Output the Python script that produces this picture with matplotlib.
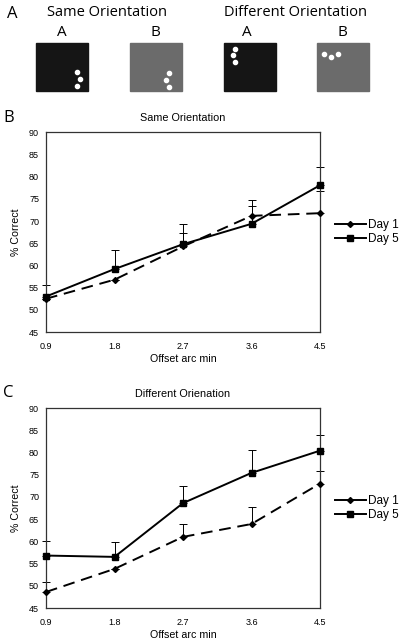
import numpy as np
import matplotlib
matplotlib.use('Agg')
import matplotlib.pyplot as plt
from matplotlib.patches import Rectangle
from matplotlib.lines import Line2D

plt.rcParams['font.family'] = ['Liberation Sans', 'DejaVu Sans']

# data
offsets = [0.9, 1.8, 2.7, 3.6, 4.5]
offset_labels = ['0.9', '1.8', '2.7', '3.6', '4.5']
yticks = [45, 50, 55, 60, 65, 70, 75, 80, 85, 90]

same_day1 = [52.5, 56.8, 64.3, 71.2, 71.8]
same_day1_err = [0.0, 0.0, 3.0, 2.3, 4.9]
same_day5 = [53.0, 59.2, 64.8, 69.4, 78.1]
same_day5_err = [2.7, 4.3, 4.6, 5.3, 4.2]

diff_day1 = [48.6, 53.8, 61.0, 63.9, 73.0]
diff_day1_err = [2.2, 0.0, 3.0, 3.8, 2.9]
diff_day5 = [56.8, 56.5, 68.6, 75.4, 80.4]
diff_day5_err = [3.2, 3.3, 3.8, 5.1, 3.6]

# panel A stimulus sketches (pixel positions in the figure)
stim_x = [36, 130, 224, 317]
stim_gray = ['#151515', '#6b6b6b', '#151515', '#6b6b6b']
stim_dots = [
    [(77, 72), (80, 79), (77, 86)],
    [(169, 73), (166, 80), (169, 87)],
    [(235, 49), (233, 55), (235, 62)],
    [(324, 54), (331, 57), (338, 54)],
]

W, H = 400, 643
fig = plt.figure(figsize=(W / 100, H / 100), dpi=100)

# overlay in pixel coords for panel A and the letters
ov = fig.add_axes([0, 0, 1, 1])
ov.set_xlim(0, W)
ov.set_ylim(H, 0)
ov.axis('off')

for x0, c, dots in zip(stim_x, stim_gray, stim_dots):
    ov.add_patch(Rectangle((x0, 43), 52, 48, color=c))
    ov.scatter([d[0] for d in dots], [d[1] for d in dots], s=9, color='white', zorder=3)

hfont = ['Open Sans', 'DejaVu Sans']
ov.text(7, 14, 'A', fontsize=12, family=hfont, va='center')
ov.text(107, 13, 'Same Orientation', fontsize=10.5, family=hfont, ha='center', va='center')
ov.text(295, 13, 'Different Orientation', fontsize=10.5, family=hfont, ha='center', va='center')
for x, t in zip([62, 155, 247, 342], ['A', 'B', 'A', 'B']):
    ov.text(x, 32, t, fontsize=11, family=hfont, ha='center', va='center')
ov.text(3, 118, 'B', fontsize=12, family=hfont, va='center')
ov.text(3, 393, 'C', fontsize=12, family=hfont, va='center')


def panel(top, bottom, title, d1, e1, d5, e5):
    ax = fig.add_axes([46 / W, 1 - bottom / H, (320 - 46) / W, (bottom - top) / H])
    ax.errorbar(offsets, d5, yerr=[np.zeros(5), e5], fmt='none', ecolor='black',
                elinewidth=0.7, capsize=3, capthick=0.7, clip_on=False)
    ax.errorbar(offsets, d1, yerr=[np.zeros(5), e1], fmt='none', ecolor='black',
                elinewidth=0.7, capsize=3, capthick=0.7, clip_on=False)
    ax.plot(offsets, d1, color='black', lw=1.4, ls=(0, (6, 3.5)), marker='D',
            ms=3, clip_on=False, zorder=4)
    ax.plot(offsets, d5, color='black', lw=1.4, marker='s', ms=5, clip_on=False, zorder=4)
    ax.set_xlim(0.9, 4.5)
    ax.set_ylim(45, 90)
    ax.set_xticks(offsets)
    ax.set_xticklabels(offset_labels)
    ax.set_yticks(yticks)
    ax.tick_params(length=0, labelsize=6.5)
    ax.tick_params(axis='x', pad=7)
    ax.tick_params(axis='y', pad=5)
    for s in ax.spines.values():
        s.set_linewidth(0.9)
        s.set_color('#333333')
    ax.set_title(title, fontsize=7.8, pad=8)
    ax.set_xlabel('Offset arc min', fontsize=7.7, labelpad=2.5)
    ax.set_ylabel('% Correct', fontsize=7.7, labelpad=6)
    handles = [Line2D([], [], color='black', lw=1.4, marker='D', ms=3),
               Line2D([], [], color='black', lw=1.4, marker='s', ms=5)]
    ax.legend(handles, ['Day 1', 'Day 5'], loc='center left', bbox_to_anchor=(1.055, 0.5),
              frameon=False, fontsize=8.5, handlelength=2.6, handletextpad=0.2,
              labelspacing=0.2, borderaxespad=0, borderpad=0)
    return ax


panel(132.5, 332, 'Same Orientation', same_day1, same_day1_err, same_day5, same_day5_err)
panel(408, 608, 'Different Orienation', diff_day1, diff_day1_err, diff_day5, diff_day5_err)

fig.savefig('out.png', dpi=100)
